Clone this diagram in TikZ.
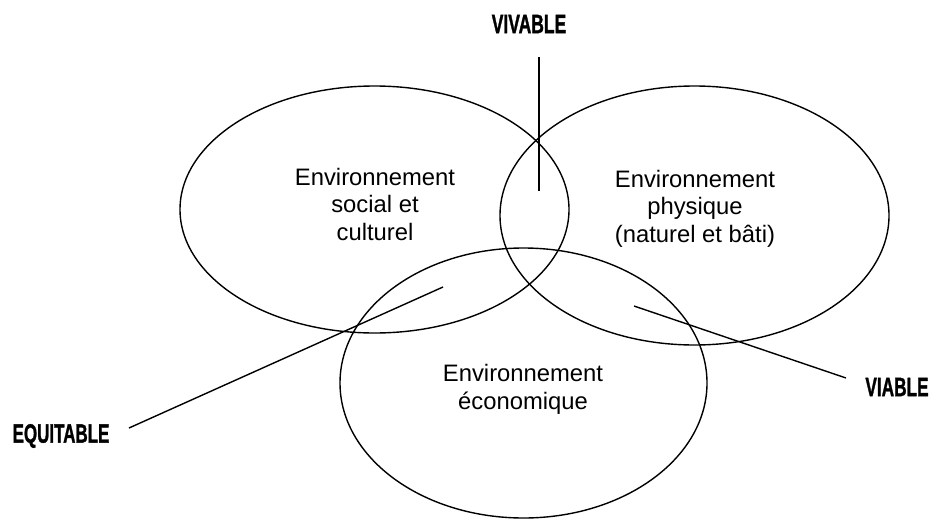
\documentclass[tikz,border=0pt]{standalone}
\usepackage{fontspec}
\setmainfont{Liberation Sans}
\newfontfamily\tagfont[FakeBold=1.5]{Liberation Sans}
\usetikzlibrary{shapes.geometric}
\begin{document}
\begin{tikzpicture}[x=1pt,y=-1pt,
  ring/.style={draw=black, line width=1.4pt, ellipse, inner sep=0pt, outer sep=0pt},
  body/.style={align=center, inner sep=0pt, anchor=base, font=\fontsize{23.8}{27.5}\selectfont},
  tag/.style={inner sep=0pt, font=\fontsize{26.5}{30}\selectfont\tagfont\bfseries},
  link/.style={draw=black, line width=1.4pt}]
\useasboundingbox (0,0) rectangle (932,520);
% ellipses
\node[ring, minimum width=389pt, minimum height=247pt] (soc) at (374.5,209.5) {};
\node[ring, minimum width=389pt, minimum height=259pt] (phy) at (694.5,215.5) {};
\node[ring, minimum width=367pt, minimum height=270pt] (eco) at (523.5,383) {};
% texts (base anchor = baseline of last line)
\node[body] (tsoc) at (375,240) {Environnement\\social et\\culturel};
\node[body] (tphy) at (695,242) {Environnement\\physique\\(naturel et bâti)};
\node[body] (teco) at (523,409) {Environnement\\économique};
% labels
\node[tag] (viv) at (529,24) {\scalebox{0.66}[1]{VIVABLE}};
\node[tag] (equ) at (61,436) {\scalebox{0.64}[1]{EQUITABLE}};
\node[tag] (via) at (897,387) {\scalebox{0.65}[1]{VIABLE}};
% connectors
\coordinate (vivA) at (539,57);
\coordinate (vivB) at (539,191);
\coordinate (equA) at (129,428);
\coordinate (equB) at (443,287);
\coordinate (viaA) at (846,378);
\coordinate (viaB) at (634,306);
\draw[link] (vivA) -- (vivB);
\draw[link] (equA) -- (equB);
\draw[link] (viaA) -- (viaB);
\end{tikzpicture}
\end{document}
